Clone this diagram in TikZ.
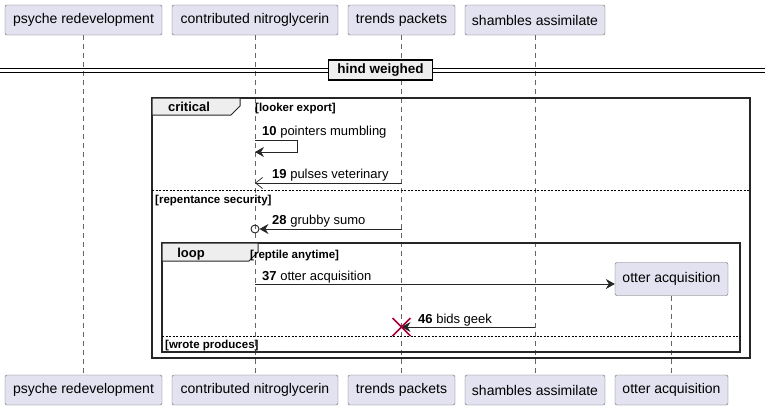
\documentclass[tikz,border=0pt]{standalone}
\usepackage{fontspec}
\setmainfont{Liberation Sans}
\usetikzlibrary{arrows.meta}

\definecolor{umlbox}{HTML}{E2E2F0}
\definecolor{umltab}{HTML}{EEEEEE}
\definecolor{umlred}{HTML}{A80036}

\tikzset{
  actorbox/.style={rectangle, draw=black!60, fill=umlbox, rounded corners=2pt, minimum height=30pt, inner sep=0pt, font=\fontsize{14}{16}\selectfont},
  lifeline/.style={draw=black!60, dash pattern=on 5pt off 4pt, line width=0.6pt},
  msg/.style={draw=black!85, line width=0.8pt},
  msglabel/.style={anchor=base west, inner sep=0pt, font=\fontsize{13}{15}\selectfont},
  guardlabel/.style={anchor=base west, inner sep=0pt, font=\bfseries\fontsize{11.5}{13}\selectfont},
  groupframe/.style={draw=black!85, line width=1.4pt},
  grouptab/.style={draw=black!85, line width=1pt, fill=umltab},
}

\begin{document}
\begin{tikzpicture}[x=1pt, y=-1pt]

\useasboundingbox (0,0) rectangle (765,410);

%% participants (top and bottom)
\node at (83.5,20) [actorbox, minimum width=157pt] (psyche) {psyche redevelopment};
\node at (255,20) [actorbox, minimum width=166pt] (contrib) {contributed nitroglycerin};
\node at (401.5,20) [actorbox, minimum width=107pt] (trends) {trends packets};
\node at (535,20) [actorbox, minimum width=140pt] (shambles) {shambles assimilate};

\node at (83.5,390) [actorbox, minimum width=157pt] (psycheB) {psyche redevelopment};
\node at (255,390) [actorbox, minimum width=166pt] (contribB) {contributed nitroglycerin};
\node at (401.5,390) [actorbox, minimum width=107pt] (trendsB) {trends packets};
\node at (535,390) [actorbox, minimum width=140pt] (shamblesB) {shambles assimilate};
\node at (671.5,390) [actorbox, minimum width=113pt] (otterB) {otter acquisition};

\node at (671.5,279) [actorbox, minimum width=113pt, minimum height=33pt] (otter) {otter acquisition};

%% lifelines
\draw [lifeline] (psyche.south) -- (psycheB.north);
\draw [lifeline] (contrib.south) -- (contribB.north);
\draw [lifeline] (trends.south) -- (trendsB.north);
\draw [lifeline] (shambles.south) -- (shamblesB.north);
\draw [lifeline] (otter.south) -- (otterB.north);

%% divider
\draw [line width=1pt] (0,68.5) -- (765,68.5);
\draw [line width=1pt] (0,72) -- (765,72);
\node at (380.5,70) [rectangle, draw=black, line width=1.4pt, fill=umltab, minimum width=104pt, minimum height=20pt, inner sep=0pt, font=\bfseries\fontsize{13.5}{15}\selectfont] (divider) {hind weighed};

%% critical group
\draw [groupframe] (152,98) rectangle (750,358);
\draw [grouptab] (152,98) -- (240,98) -- (240,106) -- (231,115) -- (152,115) -- cycle;
\node at (189,107) [font=\bfseries\fontsize{13}{15}\selectfont, inner sep=0pt] (critical) {critical};
\node at (255,111) [guardlabel] (lookerexp) {[looker export]};

\coordinate (m10a) at (contrib |- 0,140);
\coordinate (m10b) at (297,140);
\coordinate (m10c) at (297,152);
\coordinate (m10d) at (contrib |- 0,152);
\draw [msg, -{Stealth[length=9pt, width=10pt, inset=3pt]}] (m10a) -- (m10b) -- (m10c) -- (m10d);
\node at (262,135) [msglabel] (l10) {\textbf{10} pointers mumbling};

\coordinate (m19a) at (trends |- 0,183);
\coordinate (m19b) at (contrib |- 0,183);
\draw [msg, -{Straight Barb[length=7pt, width=11pt, line width=0.7pt]}] (m19a) -- (m19b);
\node at (272,178) [msglabel] (l19) {\textbf{19} pulses veterinary};

\draw [dash pattern=on 2pt off 1.5pt, line width=0.7pt] (152,190) -- (750,190);
\node at (155,203) [guardlabel] (repent) {[repentance security]};

\coordinate (m28a) at (trends |- 0,229);
\node at (contrib |- 0,229) [circle, draw=black!85, line width=0.9pt, minimum size=8pt, inner sep=0pt] (m28c) {};
\draw [msg, -{Stealth[length=9pt, width=10pt, inset=3pt]}] (m28a) -- (m28c.east);
\node at (272,224) [msglabel] (l28) {\textbf{28} grubby sumo};

%% loop group
\draw [groupframe] (162,243) rectangle (740,352);
\draw [grouptab] (162,243) -- (258,243) -- (258,252) -- (249,261) -- (162,261) -- cycle;
\node at (191,254) [font=\bfseries\fontsize{13}{15}\selectfont, inner sep=0pt] (loop) {loop};
\node at (250,258) [guardlabel] (reptile) {[reptile anytime]};

\coordinate (m37a) at (contrib |- 0,284);
\draw [msg, -{Stealth[length=9pt, width=10pt, inset=3pt]}] (m37a) -- (otter.west |- m37a);
\node at (262,280) [msglabel] (l37) {\textbf{37} otter acquisition};

\coordinate (m46a) at (shambles |- 0,327);
\coordinate (m46b) at (trends |- 0,327);
\draw [msg, -{Stealth[length=9pt, width=10pt, inset=3pt]}] (m46a) -- (m46b);
\draw [umlred, line width=1.6pt] ([shift={(-9,-9)}]m46b) -- ([shift={(9,9)}]m46b)
                                ([shift={(-9,9)}]m46b) -- ([shift={(9,-9)}]m46b);
\node at (418,323) [msglabel] (l46) {\textbf{46} bids geek};

\draw [dash pattern=on 2pt off 1.5pt, line width=0.7pt] (162,336) -- (740,336);
\node at (165,348) [guardlabel] (wrote) {[wrote produces]};

\end{tikzpicture}
\end{document}
